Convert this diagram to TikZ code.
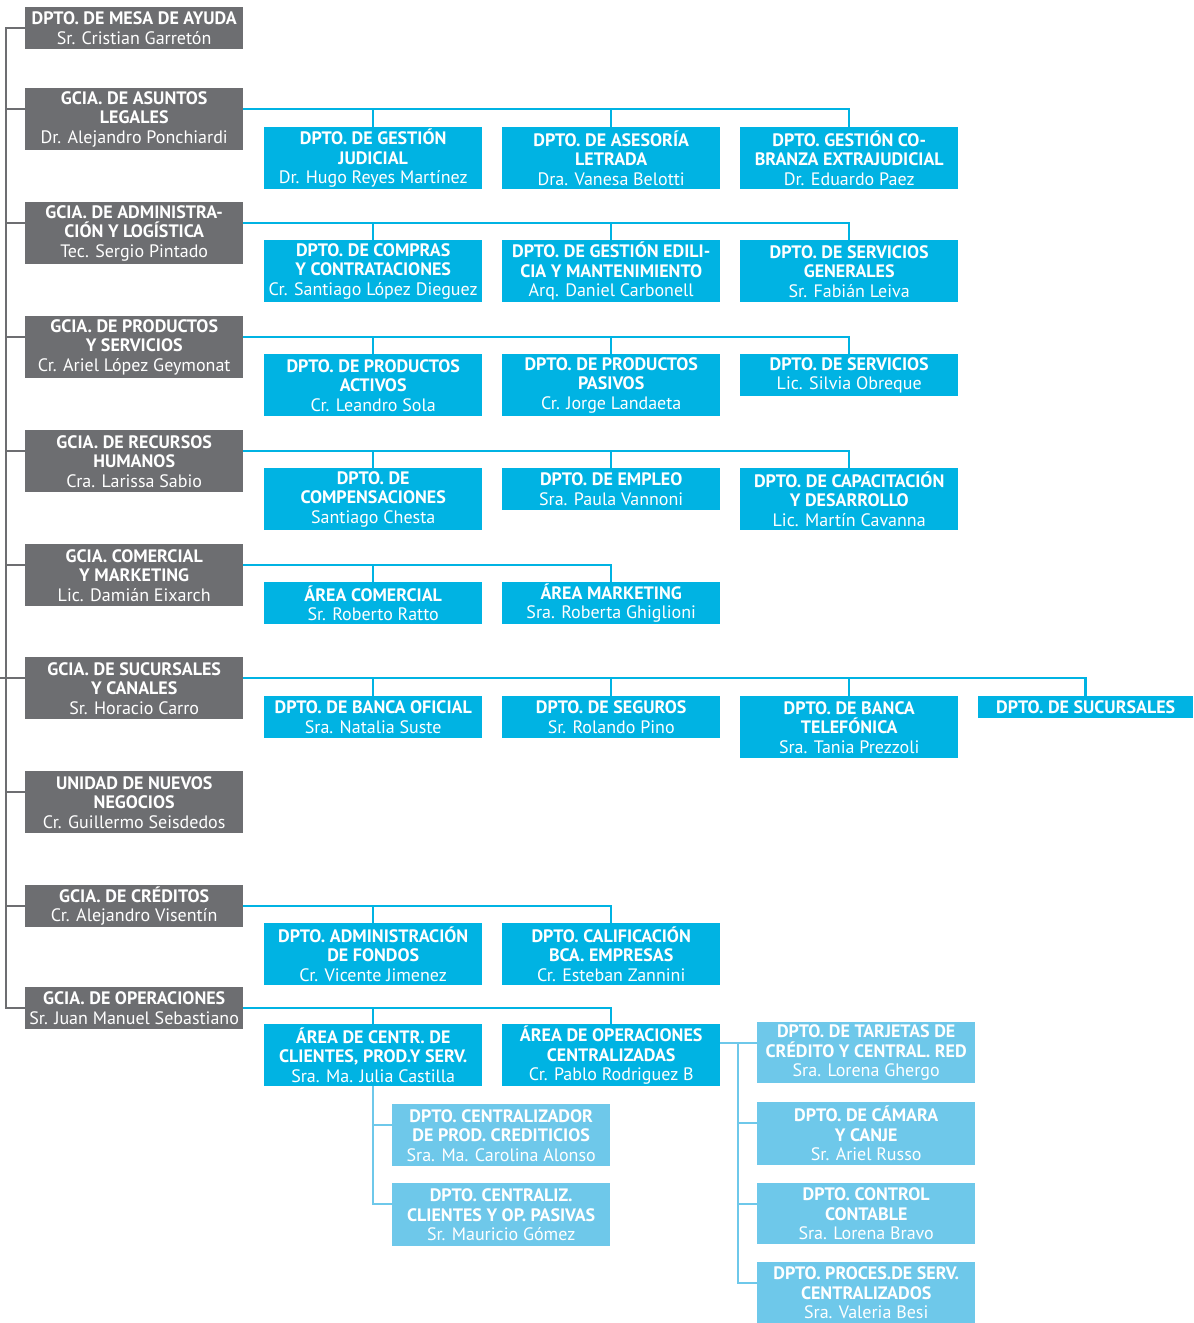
\documentclass[tikz,border=0pt]{standalone}
\usepackage{fontspec}
\setmainfont{PT Sans}
\usepackage{tikz}
\definecolor{grisbox}{HTML}{6D6E71}
\definecolor{azulbox}{HTML}{00B3E3}
\definecolor{celeste}{HTML}{6EC8EA}
\tikzset{
	box/.style={rectangle,inner sep=0pt,anchor=north west,minimum width=218pt,align=center,text=white,font=\fontsize{18}{19.5}\selectfont\bfseries},
	gbox/.style={box,fill=grisbox,minimum height=#1},
	bbox/.style={box,fill=azulbox,minimum height=#1},
	lbox/.style={box,fill=celeste,minimum height=#1},
	gline/.style={draw=grisbox,line width=2.5pt},
	bline/.style={draw=azulbox,line width=2.5pt},
	lline/.style={draw=celeste,line width=2.5pt}
}
\newcommand{\nm}[1]{{\mdseries #1}}

\begin{document}
\begin{tikzpicture}[x=1pt,y=-1pt]
						\useasboundingbox (0,0) rectangle (1194,1323);
						% gerencias
						\node [gbox=42] (mesa) at (25,7) {DPTO. DE MESA DE AYUDA\\\nm{Sr. Cristian Garretón}};
						\node [gbox=62] (legal) at (25,88) {GCIA. DE ASUNTOS\\LEGALES\\\nm{Dr. Alejandro Ponchiardi}};
						\node [gbox=62] (admin) at (25,202) {GCIA. DE ADMINISTRA-\\CIÓN Y LOGÍSTICA\\\nm{Tec. Sergio Pintado}};
						\node [gbox=62] (productos) at (25,316) {GCIA. DE PRODUCTOS\\Y SERVICIOS\\\nm{Cr. Ariel López Geymonat}};
						\node [gbox=62] (rrhh) at (25,430) {GCIA. DE RECURSOS\\HUMANOS\\\nm{Cra. Larissa Sabio}};
						\node [gbox=62] (comercial) at (25,544) {GCIA. COMERCIAL\\Y MARKETING\\\nm{Lic. Damián Eixarch}};
						\node [gbox=62] (sucursales) at (25,657) {GCIA. DE SUCURSALES\\Y CANALES\\\nm{Sr. Horacio Carro}};
						\node [gbox=62] (nuevos) at (25,771) {UNIDAD DE NUEVOS\\NEGOCIOS\\\nm{Cr. Guillermo Seisdedos}};
						\node [gbox=42] (creditos) at (25,885) {GCIA. DE CRÉDITOS\\\nm{Cr. Alejandro Visentín}};
						\node [gbox=42] (operaciones) at (25,987) {GCIA. DE OPERACIONES\\\nm{Sr. Juan Manuel Sebastiano}};
						
						% departamentos
						\node [bbox=62] (judicial) at (264,127) {DPTO. DE GESTIÓN\\JUDICIAL\\\nm{Dr. Hugo Reyes Martínez}};
						\node [bbox=62] (asesoria) at (502,127) {DPTO. DE ASESORÍA\\LETRADA\\\nm{Dra. Vanesa Belotti}};
						\node [bbox=62] (cobranza) at (740,127) {DPTO. GESTIÓN CO-\\BRANZA EXTRAJUDICIAL\\\nm{Dr. Eduardo Paez}};
						\node [bbox=62] (compras) at (264,240) {DPTO. DE COMPRAS\\Y CONTRATACIONES\\\nm{Cr. Santiago López Dieguez}};
						\node [bbox=62] (edilicia) at (502,240) {DPTO. DE GESTIÓN EDILI-\\CIA Y MANTENIMIENTO\\\nm{Arq. Daniel Carbonell}};
						\node [bbox=62] (generales) at (740,240) {DPTO. DE SERVICIOS\\GENERALES\\\nm{Sr. Fabián Leiva}};
						\node [bbox=62] (activos) at (264,354) {DPTO. DE PRODUCTOS\\ACTIVOS\\\nm{Cr. Leandro Sola}};
						\node [bbox=62] (pasivos) at (502,354) {DPTO. DE PRODUCTOS\\PASIVOS\\\nm{Cr. Jorge Landaeta}};
						\node [bbox=42] (servicios) at (740,354) {DPTO. DE SERVICIOS\\\nm{Lic. Silvia Obreque}};
						\node [bbox=62] (compens) at (264,468) {DPTO. DE\\COMPENSACIONES\\\nm{Santiago Chesta}};
						\node [bbox=42] (empleo) at (502,468) {DPTO. DE EMPLEO\\\nm{Sra. Paula Vannoni}};
						\node [bbox=62] (capacit) at (740,468) {DPTO. DE CAPACITACIÓN\\Y DESARROLLO\\\nm{Lic. Martín Cavanna}};
						\node [bbox=42] (areacom) at (264,582) {ÁREA COMERCIAL\\\nm{Sr. Roberto Ratto}};
						\node [bbox=42] (areamkt) at (502,582) {ÁREA MARKETING\\\nm{Sra. Roberta Ghiglioni}};
						\node [bbox=42] (oficial) at (264,696) {DPTO. DE BANCA OFICIAL\\\nm{Sra. Natalia Suste}};
						\node [bbox=42] (seguros) at (502,696) {DPTO. DE SEGUROS\\\nm{Sr. Rolando Pino}};
						\node [bbox=62] (telefonica) at (740,696) {DPTO. DE BANCA\\TELEFÓNICA\\\nm{Sra. Tania Prezzoli}};
						\node [bbox=22,minimum width=215pt] (dptosuc) at (978,696) {DPTO. DE SUCURSALES};
						\node [bbox=62] (fondos) at (264,923) {DPTO. ADMINISTRACIÓN\\DE FONDOS\\\nm{Cr. Vicente Jimenez}};
						\node [bbox=62] (calif) at (502,923) {DPTO. CALIFICACIÓN\\BCA. EMPRESAS\\\nm{Cr. Esteban Zannini}};
						\node [bbox=62] (centr) at (264,1024) {ÁREA DE CENTR. DE\\CLIENTES, PROD.Y SERV.\\\nm{Sra. Ma. Julia Castilla}};
						\node [bbox=62] (opcent) at (502,1024) {ÁREA DE OPERACIONES\\CENTRALIZADAS\\\nm{Cr. Pablo Rodriguez B}};
						
						\node [lbox=62] (crediticios) at (392,1104) {DPTO. CENTRALIZADOR\\DE PROD. CREDITICIOS\\\nm{Sra. Ma. Carolina Alonso}};
						\node [lbox=63] (pasivas) at (392,1183) {DPTO. CENTRALIZ.\\CLIENTES Y OP. PASIVAS\\\nm{Sr. Mauricio Gómez}};
						\node [lbox=61] (tarjetas) at (757,1022) {DPTO. DE TARJETAS DE\\CRÉDITO Y CENTRAL. RED\\\nm{Sra. Lorena Ghergo}};
						\node [lbox=63] (camara) at (757,1102) {DPTO. DE CÁMARA\\Y CANJE\\\nm{Sr. Ariel Russo}};
						\node [lbox=61] (control) at (757,1183) {DPTO. CONTROL\\CONTABLE\\\nm{Sra. Lorena Bravo}};
						\node [lbox=61] (proces) at (757,1262) {DPTO. PROCES.DE SERV.\\CENTRALIZADOS\\\nm{Sra. Valeria Besi}};
						
						\draw [gline] ([yshift=-21pt]mesa.north west) -- ++(-19,0) -- ([xshift=-19pt,yshift=-21pt]operaciones.north west) -- ([yshift=-21pt]operaciones.north west);
						\foreach \g in {legal,admin,productos,rrhh,comercial,nuevos,creditos}
							\draw [gline] ([yshift=-21pt]\g.north west) -- ++(-19,0);
						\coordinate (entrada) at (0,678);
						\draw [gline] (entrada) -- (entrada -| sucursales.west);
						
						\draw [bline] ([yshift=-21pt]legal.north east) coordinate (blegal) -| (cobranza.north);
						\foreach \c in {judicial,asesoria} \draw [bline] (\c.north) -- (\c.north |- blegal);
						\draw [bline] ([yshift=-21pt]admin.north east) coordinate (badmin) -| (generales.north);
						\foreach \c in {compras,edilicia} \draw [bline] (\c.north) -- (\c.north |- badmin);
						\draw [bline] ([yshift=-21pt]productos.north east) coordinate (bprod) -| (servicios.north);
						\foreach \c in {activos,pasivos} \draw [bline] (\c.north) -- (\c.north |- bprod);
						\draw [bline] ([yshift=-21pt]rrhh.north east) coordinate (brrhh) -| (capacit.north);
						\foreach \c in {compens,empleo} \draw [bline] (\c.north) -- (\c.north |- brrhh);
						\draw [bline] ([yshift=-21pt]comercial.north east) coordinate (bcom) -| (areamkt.north);
						\draw [bline] (areacom.north) -- (areacom.north |- bcom);
						\draw [bline] ([yshift=-21pt]sucursales.north east) coordinate (bsuc) -| (dptosuc.north);
						\foreach \c in {oficial,seguros,telefonica} \draw [bline] (\c.north) -- (\c.north |- bsuc);
						\draw [bline] ([yshift=-21pt]creditos.north east) coordinate (bcred) -| (calif.north);
						\draw [bline] (fondos.north) -- (fondos.north |- bcred);
						\draw [bline] ([yshift=-21pt]operaciones.north east) coordinate (bop) -| (opcent.north);
						\draw [bline] (centr.north) -- (centr.north |- bop);
						
						\foreach \c in {crediticios,pasivas} \draw [lline] ([yshift=-21pt]\c.north west) -| (centr.south);
						\draw [lline] ([yshift=-21pt]tarjetas.north west) -- ([yshift=-21pt]tarjetas.north west -| opcent.east);
						\foreach \c in {camara,control,proces} \draw [lline] ([yshift=-21pt]\c.north west) -| ([xshift=-19pt,yshift=-21pt]tarjetas.north west);
\end{tikzpicture}
\end{document}
